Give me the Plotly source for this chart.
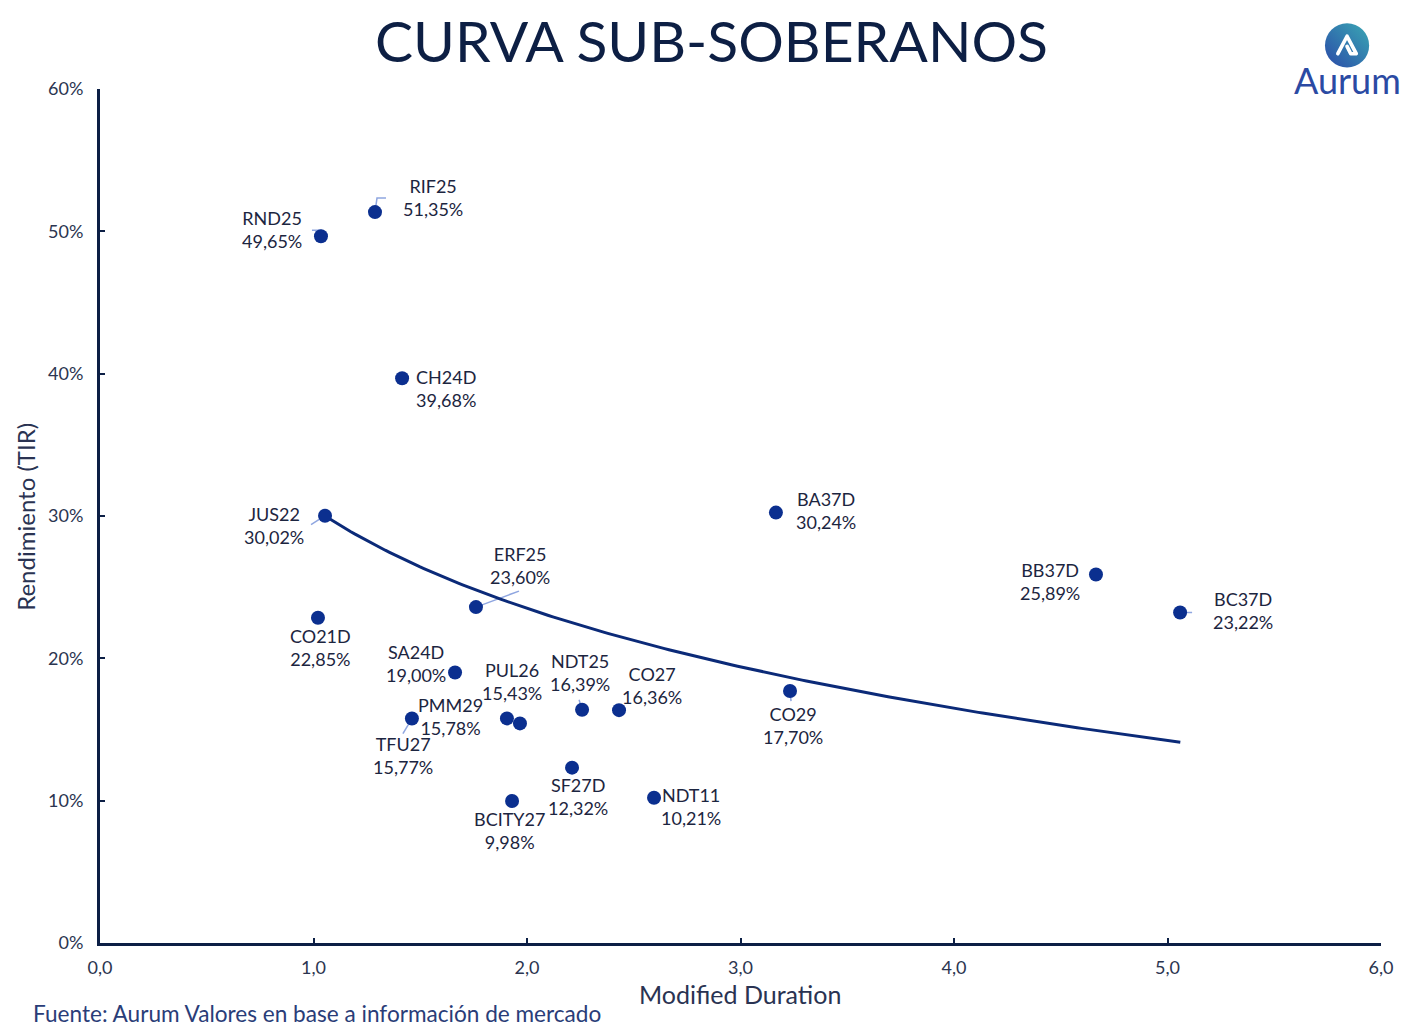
import base64
import numpy as np
import plotly.graph_objects as go

# ---------------- data ----------------
bonds = ["RND25", "RIF25", "CH24D", "JUS22", "CO21D", "ERF25", "SA24D", "PMM29", "TFU27",
         "PUL26", "NDT25", "CO27", "SF27D", "BCITY27", "NDT11", "BA37D", "CO29", "BB37D", "BC37D"]
duration = [1.035, 1.288, 1.415, 1.054, 1.021, 1.761, 1.663, 1.906, 1.461,
            1.967, 2.258, 2.431, 2.211, 1.930, 2.595, 3.166, 3.232, 4.665, 5.059]
ytm = [49.65, 51.35, 39.68, 30.02, 22.85, 23.60, 19.00, 15.78, 15.77,
       15.43, 16.39, 16.36, 12.32, 9.98, 10.21, 30.24, 17.70, 25.89, 23.22]

# label offsets in pixels (dx right, dy up) relative to the point
label_dx = [-49, 58, 44, -51, 3, 44, -39, -56, -9, -8, -2, 33, 6, -3, 37, 50, 3, -46, 63]
label_dy = [7, 15, -10, -10, -30, 42, 9, 2, -37, 42, 37, 25, -29, -30, -9, 2, -34, -7, 2]

# leader lines (pixel paths relative to point) for some labels
leaders = {
    "RIF25": "M0,0 L2,14 L11,14",
    "RND25": "M0,0 L0,6 L-9,6",
    "JUS22": "M0,0 L-14,-9",
    "ERF25": "M0,0 L43,16",
    "TFU27": "M0,0 L-9,-15",
    "NDT25": "M0,0 L-3,10",
    "CO29": "M0,0 L1,-10",
    "BC37D": "M0,0 L12,0",
}

# logarithmic trendline y = a + b ln(x)
trend_a = 30.53
trend_b = -10.13
trend_x_start = 1.054
trend_x_end = 5.06

x_ticks = [0, 1, 2, 3, 4, 5, 6]
y_ticks = [0, 10, 20, 30, 40, 50, 60]
y_tick_text = [f"{v}%" for v in y_ticks]

NAVY = "#0c1f45"
MARK = "#0b2f8f"
TXT = "#1c2540"
LEAD = "#8fa6e0"
FONT = "Lato, 'Open Sans', sans-serif"

fig = go.Figure()

tx = np.linspace(trend_x_start, trend_x_end, 200)
fig.add_trace(go.Scatter(x=tx, y=trend_a + trend_b * np.log(tx), mode="lines",
                         line=dict(color="#0b2a78", width=3), hoverinfo="skip",
                         showlegend=False))

fig.add_trace(go.Scatter(x=duration, y=ytm, mode="markers",
                         marker=dict(size=14, color=MARK, line=dict(width=0)),
                         text=bonds, showlegend=False))

annotations = []
shapes = []
for b, xv, yv, dx, dy in zip(bonds, duration, ytm, label_dx, label_dy):
    lab = f"{b}<br>{yv:.2f}%".replace(".", ",")
    annotations.append(dict(x=xv, y=yv, xref="x", yref="y", text=lab, showarrow=False,
                            xshift=dx, yshift=dy, xanchor="center", yanchor="middle",
                            font=dict(size=18, color=TXT, family=FONT), align="center"))
    if b in leaders:
        shapes.append(dict(type="path", xref="x", yref="y", xsizemode="pixel", ysizemode="pixel",
                           xanchor=xv, yanchor=yv, path=leaders[b],
                           line=dict(color=LEAD, width=1.5), layer="below"))

# axis titles, source, logo text
annotations += [
    dict(x=0.4996, y=-0.0597, xref="paper", yref="paper", text="Modified Duration",
         showarrow=False, xanchor="center", yanchor="middle",
         font=dict(size=25, color="#2a3352", family=FONT)),
    dict(x=-0.0578, y=0.499, xref="paper", yref="paper", text="Rendimiento (TIR)",
         showarrow=False, textangle=-90, xanchor="center", yanchor="middle",
         font=dict(size=24, color="#2a3352", family=FONT)),
    dict(x=-0.0539, y=-0.0831, xref="paper", yref="paper",
         text="Fuente: Aurum Valores en base a información de mercado",
         showarrow=False, xanchor="left", yanchor="middle",
         font=dict(size=22.6, color="#2a3d78", family=FONT)),
    dict(x=0.9735, y=1.0105, xref="paper", yref="paper", text="Aurum",
         showarrow=False, xanchor="center", yanchor="middle",
         font=dict(size=36, color="#2b4aa3", family=FONT)),
]

svg = """<svg xmlns='http://www.w3.org/2000/svg' width='100' height='100' viewBox='0 0 100 100'>
<defs><linearGradient id='g' x1='0' y1='1' x2='1' y2='0'>
<stop offset='0' stop-color='#2a4aa8'/><stop offset='1' stop-color='#3aa8b4'/></linearGradient></defs>
<circle cx='50' cy='50' r='48' fill='url(#g)'/>
<path d='M30 68 L50 30 L70 68 L58 68 L50 52' fill='none' stroke='white' stroke-width='8'
 stroke-linejoin='round' stroke-linecap='round'/></svg>"""
src = "data:image/svg+xml;base64," + base64.b64encode(svg.encode()).decode()

fig.update_layout(
    width=1423, height=1033,
    margin=dict(l=100, r=42, t=89, b=90),
    paper_bgcolor="white", plot_bgcolor="white",
    separators=",.",
    font=dict(family=FONT, color=TXT),
    title=dict(text="CURVA SUB-SOBERANOS", x=0.5, xref="container", y=1 - 42 / 1033,
               yref="container", xanchor="center", yanchor="middle",
               font=dict(size=57, color="#0d1f44", family=FONT)),
    xaxis=dict(range=[0, 6], tickvals=x_ticks, tickformat=".1f", showgrid=False, zeroline=False,
               showline=True, linecolor=NAVY, linewidth=3, ticks="inside", ticklen=5,
               tickwidth=2, tickcolor=NAVY, tickfont=dict(size=18, color="#2b3550"),
               ticklabelstandoff=6),
    yaxis=dict(range=[0, 60], tickvals=y_ticks, ticktext=y_tick_text, showgrid=False,
               zeroline=False, showline=True, linecolor=NAVY, linewidth=3, ticks="inside",
               ticklen=5, tickwidth=2, tickcolor=NAVY, tickfont=dict(size=18, color="#2b3550"),
               ticklabelstandoff=10),
    annotations=annotations,
    shapes=shapes,
    images=[dict(source=src, xref="paper", yref="paper", x=0.9735, y=1.051, sizex=0.0359,
                 sizey=0.0539, xanchor="center", yanchor="middle", sizing="contain", layer="above")],
)

fig.write_html("out.html")
